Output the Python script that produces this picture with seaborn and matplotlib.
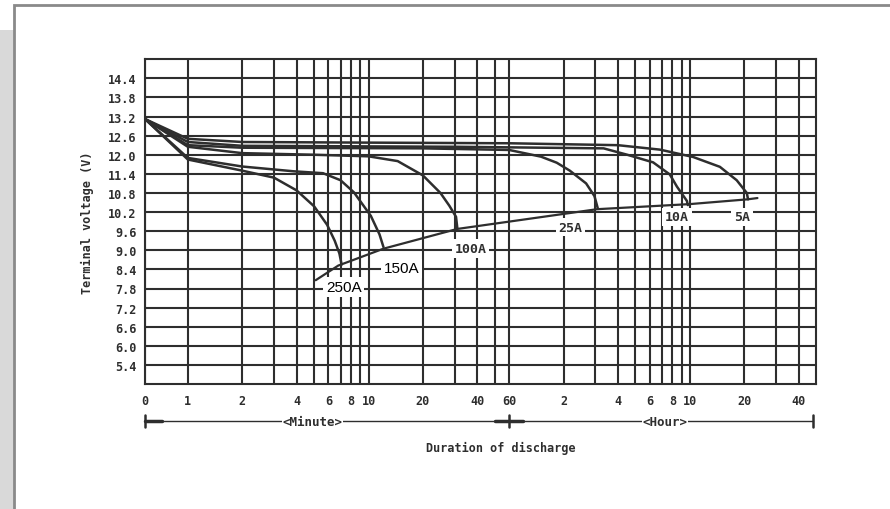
import matplotlib
matplotlib.use("Agg")
import matplotlib.pyplot as plt
from matplotlib.patches import Rectangle
from matplotlib.ticker import NullFormatter
import seaborn as sns

# discharge curves: time in minutes, terminal voltage in V
t_5A = [0.58, 1, 2, 10, 60, 240, 410, 625, 880, 1090, 1240, 1260]
v_5A = [13.12, 12.5, 12.4, 12.38, 12.36, 12.3, 12.16, 11.93, 11.62, 11.2, 10.8, 10.6]

t_10A = [0.58, 1, 2, 30, 200, 270, 376, 465, 509, 578, 585]
v_10A = [13.12, 12.4, 12.28, 12.25, 12.2, 12.0, 11.76, 11.38, 11.0, 10.55, 10.42]

t_25A = [0.58, 1, 2, 20, 60, 90, 110, 130, 160, 178, 186]
v_25A = [13.12, 12.3, 12.22, 12.2, 12.15, 11.94, 11.75, 11.5, 11.1, 10.7, 10.3]

t_100A = [0.58, 1, 2, 5, 10, 14.5, 20, 25, 28, 30.5, 31]
v_100A = [13.12, 12.25, 12.05, 12.0, 11.95, 11.8, 11.35, 10.8, 10.4, 10.05, 9.7]

t_150A = [0.58, 1, 2, 3.85, 5.6, 7, 8.3, 10.3, 11.5, 12.1]
v_150A = [13.12, 11.9, 11.63, 11.48, 11.42, 11.2, 10.82, 10.08, 9.5, 9.1]

t_250A = [0.58, 1, 2, 3, 4, 5, 5.9, 6.5, 6.9, 7.1]
v_250A = [13.12, 11.85, 11.5, 11.28, 10.88, 10.38, 9.8, 9.3, 8.9, 8.55]

# final (cut-off) voltage line
t_cut = [5.1, 6.8, 12.1, 31, 184, 600, 1255, 1420]
v_cut = [8.06, 8.52, 9.05, 9.67, 10.29, 10.45, 10.6, 10.64]

curve_names = ["5A", "10A", "25A", "100A", "150A", "250A"]
curve_t = [t_5A, t_10A, t_25A, t_100A, t_150A, t_250A]
curve_v = [v_5A, v_10A, v_25A, v_100A, v_150A, v_250A]

x_tick_pos = [0.58, 1, 2, 4, 6, 8, 10, 20, 40, 60, 120, 240, 360, 480, 600, 1200, 2400]
x_tick_lab = ["0", "1", "2", "4", "6", "8", "10", "20", "40", "60",
              "2", "4", "6", "8", "10", "20", "40"]
x_grid_extra = [3, 5, 7, 9, 30, 50, 180, 300, 420, 540, 1800]
y_ticks = [5.4, 6.0, 6.6, 7.2, 7.8, 8.4, 9.0, 9.6, 10.2, 10.8, 11.4, 12.0, 12.6, 13.2, 13.8, 14.4]
y_tick_lab = ["5.4", "6.0", "6.6", "7.2", "7.8", "8.4", "9.0", "9.6", "10.2",
              "10.8", "11.4", "12.0", "12.6", "13.2", "13.8", "14.4"]

sns.set_style("white")
plt.rcParams["font.family"] = ["DejaVu Sans Mono", "DejaVu Sans"]

ink = "#2e2e2e"
fig = plt.figure(figsize=(8.9, 5.1), dpi=100)

# page frame + left shadow
fig.patches.append(Rectangle((0, 0), 0.016, 0.94, transform=fig.transFigure,
                             facecolor="#d9d9d9", edgecolor="none", zorder=-10))
fig.patches.append(Rectangle((0.016, -0.01), 1.0, 0.998, transform=fig.transFigure,
                             facecolor="white", edgecolor="#8a8a8a", lw=2, zorder=-9))

ax = fig.add_axes([0.163, 0.245, 0.754, 0.637])
ax.set_zorder(5)

for t, v in zip(curve_t, curve_v):
    sns.lineplot(x=t, y=v, ax=ax, color=ink, lw=1.8, sort=False, estimator=None, zorder=3)
sns.lineplot(x=t_cut, y=v_cut, ax=ax, color=ink, lw=1.6, sort=False, estimator=None, zorder=3)

ax.set_xscale("log")
ax.set_xlim(0.58, 3000)
ax.set_ylim(4.8, 15.0)

ax.set_xticks(x_tick_pos)
ax.set_xticklabels(x_tick_lab)
ax.set_xticks(x_grid_extra, minor=True)
ax.xaxis.set_minor_formatter(NullFormatter())
ax.set_yticks(y_ticks)
ax.set_yticklabels(y_tick_lab)

ax.grid(True, which="both", axis="x", color=ink, lw=1.5)
ax.grid(True, which="major", axis="y", color=ink, lw=1.5)
ax.set_axisbelow(True)
ax.tick_params(axis="x", which="both", length=0, pad=7, labelsize=8.5, colors=ink)
ax.tick_params(axis="y", length=4, width=1, pad=2, labelsize=8.5, colors=ink, direction="out")
for lab in ax.get_xticklabels() + ax.get_yticklabels():
    lab.set_fontweight("bold")
for s in ax.spines.values():
    s.set_color(ink)
    s.set_linewidth(1.5)
ax.set_xlabel("")
ax.set_ylabel("Terminal voltage (V)", fontsize=8.5, fontweight="bold", color=ink, labelpad=10)

# curve labels
box = dict(facecolor="white", edgecolor="none", pad=2)
ax.text(7.3, 7.84, "250A", ha="center", va="center", fontsize=11,
        family="Liberation Sans", color="black", bbox=box, zorder=5)
ax.text(15.2, 8.43, "150A", ha="center", va="center", fontsize=11,
        family="Liberation Sans", color="black", bbox=box, zorder=5)
for x, y, s in [(36.6, 9.05, "100A"), (131, 9.73, "25A"), (509, 10.05, "10A"), (1164, 10.05, "5A")]:
    ax.text(x, y, s, ha="center", va="center", fontsize=9.5, fontweight="bold",
            color=ink, bbox=box, zorder=5)

# <Minute> / <Hour> bar under the axis
tr = ax.get_xaxis_transform()
yr = -0.114
ax.plot([0.58, 2875], [yr, yr], transform=tr, clip_on=False, color=ink, lw=1)
for x in [0.58, 60, 2875]:
    ax.plot([x, x], [yr - 0.018, yr + 0.018], transform=tr, clip_on=False, color=ink, lw=1.8)
ax.plot([0.58, 0.72], [yr, yr], transform=tr, clip_on=False, color=ink, lw=2.5)
ax.plot([50, 72], [yr, yr], transform=tr, clip_on=False, color=ink, lw=2.5)
ax.text(4.9, yr, "<Minute>", transform=tr, ha="center", va="center", fontsize=9,
        fontweight="bold", color=ink, bbox=dict(facecolor="white", edgecolor="none", pad=0.5))
ax.text(436, yr, "<Hour>", transform=tr, ha="center", va="center", fontsize=9,
        fontweight="bold", color=ink, bbox=dict(facecolor="white", edgecolor="none", pad=0.5))
ax.text(0.53, -0.194, "Duration of discharge", transform=ax.transAxes, ha="center",
        va="center", fontsize=8.5, fontweight="bold", color=ink)

fig.savefig("out.png", dpi=100)
